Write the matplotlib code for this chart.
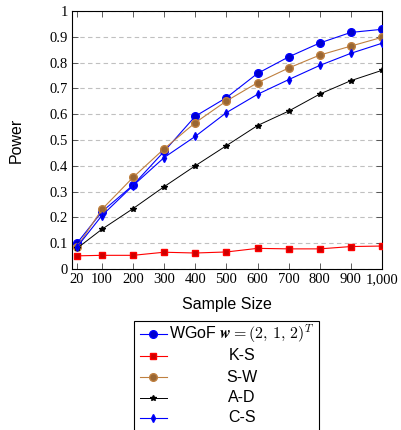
import matplotlib
matplotlib.use("Agg")
import matplotlib.pyplot as plt
from matplotlib.lines import Line2D
from matplotlib.patches import Rectangle

# Power of each goodness-of-fit test versus sample size
sample_sizes = [20, 100, 200, 300, 400, 500, 600, 700, 800, 900, 1000]
x_tick_labels = ["20", "100", "200", "300", "400", "500", "600", "700", "800", "900", "1,000"]

wgof = [0.100, 0.222, 0.325, 0.456, 0.592, 0.664, 0.758, 0.822, 0.876, 0.917, 0.929]
ks = [0.051, 0.053, 0.053, 0.065, 0.062, 0.066, 0.080, 0.078, 0.078, 0.087, 0.089]
sw = [0.085, 0.231, 0.355, 0.466, 0.567, 0.651, 0.722, 0.779, 0.829, 0.864, 0.898]
ad = [0.080, 0.154, 0.234, 0.319, 0.400, 0.478, 0.556, 0.612, 0.678, 0.730, 0.770]
cs = [0.085, 0.207, 0.323, 0.432, 0.514, 0.606, 0.677, 0.734, 0.789, 0.836, 0.875]

series_labels = [r"WGoF $\boldsymbol{w} = (2,\,1,\,2)^T$", "K-S", "S-W", "A-D", "C-S"]

plt.rcParams["mathtext.fontset"] = "cm"

blue = (0, 0, 1)
red = (1, 0, 0)
brown = (0.75, 0.5, 0.25)


def darker(c):
    return tuple(0.8 * v for v in c)


styles = [
    dict(color=blue, marker="o", ms=5.5, mfc=darker(blue), mec=blue, lw=0.8),
    dict(color=red, marker="s", ms=5.0, mfc=darker(red), mec=red, lw=0.8),
    dict(color=brown, marker="o", ms=5.5, mfc=darker(brown), mec=brown, lw=0.8),
    dict(color="black", marker="*", ms=3.8, mfc="black", mec="black", lw=0.7),
    dict(color=blue, marker="d", ms=3.6, mfc=darker(blue), mec=blue, lw=0.8),
]

fig = plt.figure(figsize=(4.02, 4.30), dpi=100)
ax = fig.add_axes([72 / 402, 1 - 269 / 430, 310 / 402, 258 / 430])

for ys, st in zip([wgof, ks, sw, ad, cs], styles):
    ax.plot(sample_sizes, ys, zorder=3, **st)

ax.set_xlim(4, 1000)
ax.set_ylim(0, 1)
ax.set_xticks(sample_sizes)
ax.set_xticklabels(x_tick_labels)
y_ticks = [i / 10 for i in range(11)]
ax.set_yticks(y_ticks)
ax.set_yticklabels(["0", "0.1", "0.2", "0.3", "0.4", "0.5", "0.6", "0.7", "0.8", "0.9", "1"])

ax.yaxis.grid(True, color="#c0c0c0", linestyle=(0, (4, 3)), linewidth=0.8)
ax.set_axisbelow(True)

ax.tick_params(direction="in", top=True, right=True, length=4, width=0.6,
               color="#444444", labelsize=10.5, pad=3)
for lab in ax.get_xticklabels() + ax.get_yticklabels():
    lab.set_fontfamily("Liberation Serif")
for sp in ax.spines.values():
    sp.set_linewidth(0.8)

ax.set_xlabel("Sample Size", fontfamily="Liberation Sans", fontsize=11.5)
ax.set_ylabel("Power", fontfamily="Liberation Sans", fontsize=11.5)
ax.xaxis.set_label_coords(0.5, -36 / 258, transform=ax.transAxes)
ax.yaxis.set_label_coords(-56 / 310, 0.5, transform=ax.transAxes)
ax.xaxis.label.set_va("center")
ax.yaxis.label.set_va("center")

# Legend drawn as a boxed table under the axes, labels centred
W, H = 402.0, 430.0
box_left, box_right, box_top, box_bottom = 134, 319, 321, 436
fig.patches.append(Rectangle((box_left / W, 1 - box_bottom / H),
                             (box_right - box_left) / W, (box_bottom - box_top) / H,
                             transform=fig.transFigure, fill=False,
                             edgecolor="black", linewidth=0.8))
row_y = [334, 355.5, 377, 397.5, 418]
for ry, st, lab in zip(row_y, styles, series_labels):
    yy = 1 - ry / H
    fig.lines.append(Line2D([140 / W, 167 / W], [yy, yy], transform=fig.transFigure,
                            color=st["color"], lw=st["lw"]))
    fig.lines.append(Line2D([153.5 / W], [yy], transform=fig.transFigure,
                            marker=st["marker"], ms=st["ms"], mfc=st["mfc"],
                            mec=st["mec"], linestyle="none"))
    fig.text(242 / W, yy, lab, ha="center", va="center",
             fontfamily="Liberation Sans", fontsize=11.5)

fig.savefig("out.png", dpi=100)
